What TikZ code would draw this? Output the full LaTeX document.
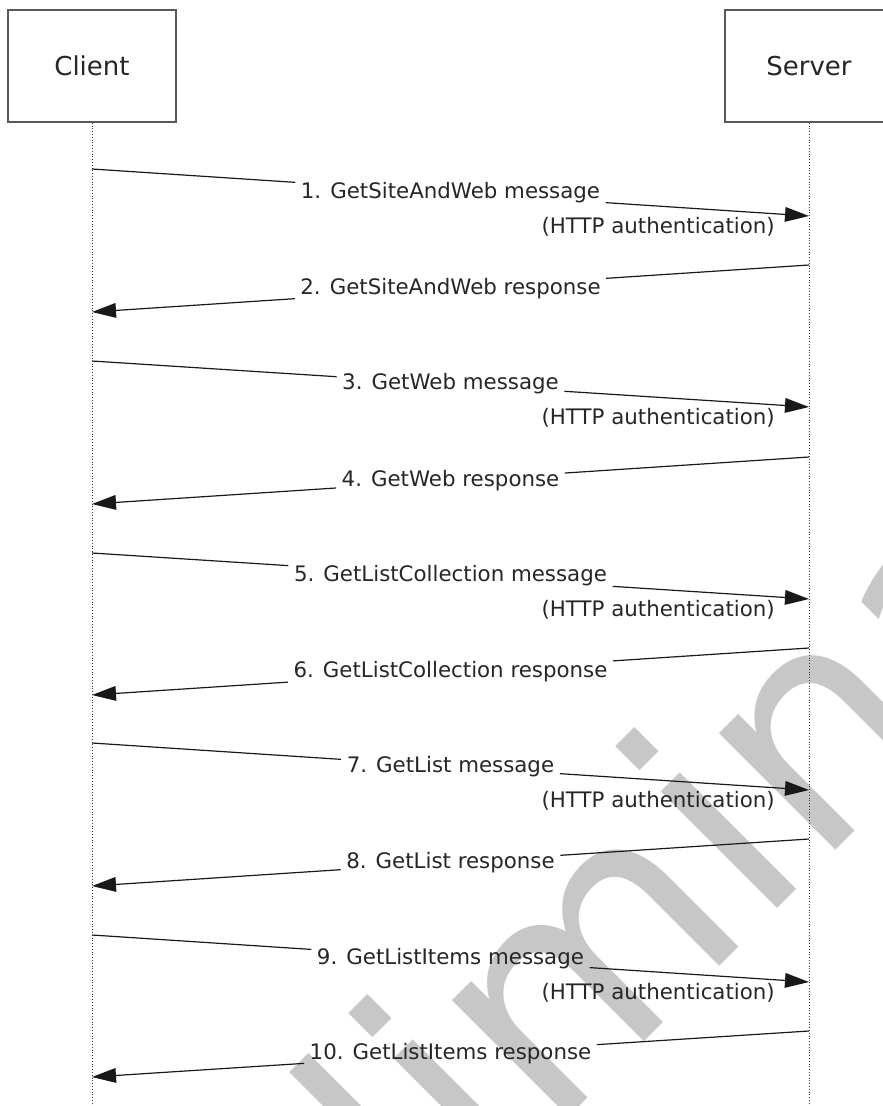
\documentclass[tikz,border=0pt]{standalone}
\usepackage{fontspec}
\setmainfont{DejaVu Sans}
\usetikzlibrary{arrows.meta,calc}

\tikzset{
  actor/.style={draw=black!65, line width=1.2pt, minimum width=126pt, minimum height=84pt,
    font=\fontsize{19.5}{22}\selectfont, text=black!85},
  lifeline/.style={black!80, line width=0.7pt, dash pattern=on 0.8pt off 1.3pt},
  msg/.style={black!90, line width=0.9pt},
  tip/.style={-{Triangle[length=18pt,width=11pt]}},
  lbl/.style={inner sep=4pt, font=\fontsize{16}{18}\selectfont, text=black!85},
  auth/.style={inner sep=0pt, anchor=east, font=\fontsize{16}{18}\selectfont, text=black!85},
  wmark/.style={inner sep=0pt, text=black!22, font=\fontsize{226}{226}\selectfont}
}

\begin{document}
\begin{tikzpicture}[x=0.75pt, y=-0.75pt]
	\useasboundingbox (0,0) rectangle (882,1106);
	% watermark
	\node[wmark, rotate=45, anchor=base] (wm) at (694,992) {Preliminary};
	% actors
	\node[actor] (client) at (92,66) {Client};
	\node[actor] (server) at (809,66) {Server};
	\coordinate (cbot) at (92,1106);
	\coordinate (sbot) at (809,1106);
	\draw[lifeline] (client) -- (cbot);
	\draw[lifeline] (server) -- (sbot);
	% 1
	\coordinate (s1) at (92,169); \coordinate (e1) at (809,216);
	\node[lbl] (l1) at ($(s1)!.5!(e1)$) {1. GetSiteAndWeb message};
	\draw[msg] (s1) -- (l1); \draw[msg,tip] (l1) -- (e1);
	\node[auth] at (775,227) {(HTTP authentication)};
	% 2
	\coordinate (s2) at (809,265); \coordinate (e2) at (92,312);
	\node[lbl] (l2) at ($(s2)!.5!(e2)$) {2. GetSiteAndWeb response};
	\draw[msg] (s2) -- (l2); \draw[msg,tip] (l2) -- (e2);
	% 3
	\coordinate (s3) at (92,361); \coordinate (e3) at (809,407);
	\node[lbl] (l3) at ($(s3)!.5!(e3)$) {3. GetWeb message};
	\draw[msg] (s3) -- (l3); \draw[msg,tip] (l3) -- (e3);
	\node[auth] at (775,418) {(HTTP authentication)};
	% 4
	\coordinate (s4) at (809,457); \coordinate (e4) at (92,504);
	\node[lbl] (l4) at ($(s4)!.5!(e4)$) {4. GetWeb response};
	\draw[msg] (s4) -- (l4); \draw[msg,tip] (l4) -- (e4);
	% 5
	\coordinate (s5) at (92,553); \coordinate (e5) at (809,599);
	\node[lbl] (l5) at ($(s5)!.5!(e5)$) {5. GetListCollection message};
	\draw[msg] (s5) -- (l5); \draw[msg,tip] (l5) -- (e5);
	\node[auth] at (775,610) {(HTTP authentication)};
	% 6
	\coordinate (s6) at (809,648); \coordinate (e6) at (92,695);
	\node[lbl] (l6) at ($(s6)!.5!(e6)$) {6. GetListCollection response};
	\draw[msg] (s6) -- (l6); \draw[msg,tip] (l6) -- (e6);
	% 7
	\coordinate (s7) at (92,743); \coordinate (e7) at (809,790);
	\node[lbl] (l7) at ($(s7)!.5!(e7)$) {7. GetList message};
	\draw[msg] (s7) -- (l7); \draw[msg,tip] (l7) -- (e7);
	\node[auth] at (775,801) {(HTTP authentication)};
	% 8
	\coordinate (s8) at (809,839); \coordinate (e8) at (92,886);
	\node[lbl] (l8) at ($(s8)!.5!(e8)$) {8. GetList response};
	\draw[msg] (s8) -- (l8); \draw[msg,tip] (l8) -- (e8);
	% 9
	\coordinate (s9) at (92,935); \coordinate (e9) at (809,982);
	\node[lbl] (l9) at ($(s9)!.5!(e9)$) {9. GetListItems message};
	\draw[msg] (s9) -- (l9); \draw[msg,tip] (l9) -- (e9);
	\node[auth] at (775,993) {(HTTP authentication)};
	% 10
	\coordinate (s10) at (809,1031); \coordinate (e10) at (92,1077);
	\node[lbl] (l10) at ($(s10)!.5!(e10)$) {10. GetListItems response};
	\draw[msg] (s10) -- (l10); \draw[msg,tip] (l10) -- (e10);
\end{tikzpicture}
\end{document}
